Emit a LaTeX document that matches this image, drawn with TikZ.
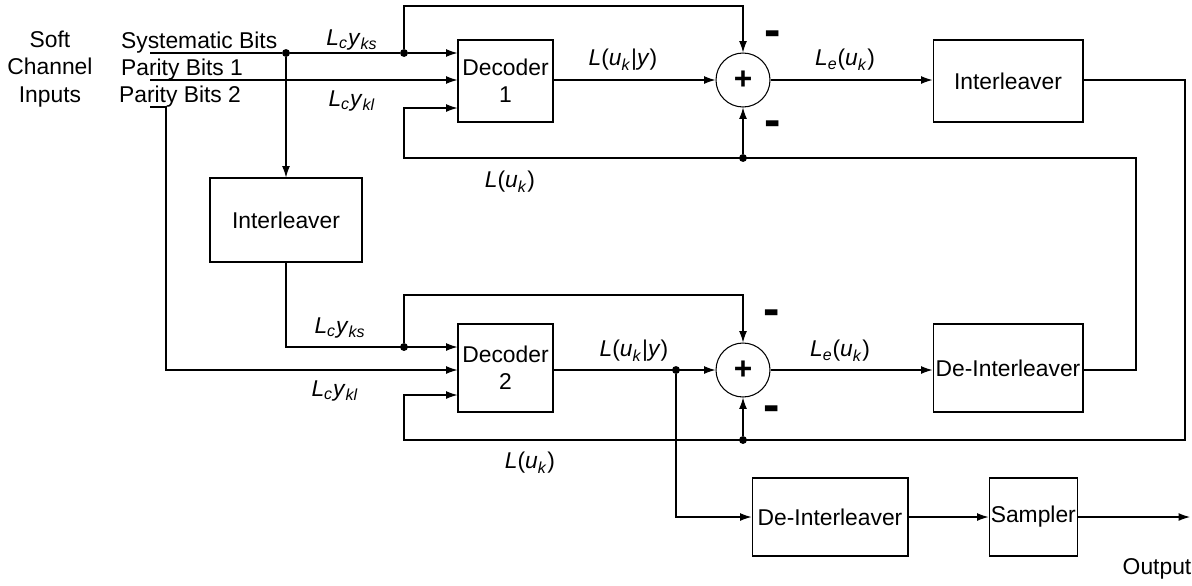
\documentclass[tikz,border=0pt]{standalone}
\usepackage{fontspec}
\setmainfont{Liberation Sans}
\usetikzlibrary{positioning,arrows.meta,calc}
\newcommand{\sbs}[1]{\textsubscript{\textit{#1}}}
\newcommand{\lcy}[1]{\textit{L}\sbs{c}\textit{y}\sbs{#1}}
\tikzset{
  blk/.style ={rectangle, draw, line width=0.6pt, align=center,
               font=\fontsize{13}{15.5}\selectfont, inner sep=1pt},
  sumc/.style={circle, draw, line width=0.6pt, minimum size=1.08cm, inner sep=0pt,
               font=\fontsize{18}{18}\selectfont\bfseries},
  fl/.style  ={-{Latex[length=6.5pt,width=4.5pt]}, line width=0.6pt},
  ln/.style  ={line width=0.6pt},
  jn/.style  ={circle, fill, inner sep=0pt, minimum size=4.5pt},
  lbl/.style ={font=\fontsize{13}{15.5}\selectfont, inner sep=1pt},
  mns/.style ={font=\fontsize{28}{28}\selectfont\bfseries, inner sep=0pt}
}

\begin{document}
\begin{tikzpicture}[x=0.02cm, y=-0.02cm]
  \useasboundingbox (0,0) rectangle (1192,585);

  % inputs
  \node[lbl, anchor=base] (soft) at (50,47) {Soft};
  \node[lbl, anchor=base] (chan) at (50,74) {Channel};
  \node[lbl, anchor=base] (inps) at (50,102) {Inputs};
  \node[lbl, anchor=base west] (sysb) at (119,48) {Systematic Bits};
  \node[lbl, anchor=base west] (par1) at (119,75) {Parity Bits 1};
  \node[lbl, anchor=base west] (par2) at (117,102) {Parity Bits 2};
  \coordinate (sysin) at (150,53);
  \coordinate (p1in) at (150,80);
  \coordinate (p2in) at (150,107);

  % first decoder stage
  \node[blk, minimum width=1.9cm, minimum height=1.64cm] (dec1) at (505.5,81) {Decoder\\1};
  \node[sumc] (add1) at (743,80) {+};
  \node[blk, minimum width=3cm, minimum height=1.64cm] (intl1) at (1008,81) {Interleaver};
  \node[blk, minimum width=3.04cm, minimum height=1.68cm] (intl2) at (286,220) {Interleaver};

  % second decoder stage
  \node[blk, minimum width=1.9cm, minimum height=1.76cm] (dec2) at (505.5,368) {Decoder\\2};
  \node[sumc] (add2) at (743,370) {+};
  \node[blk, minimum width=3cm, minimum height=1.76cm] (deint1) at (1008,368) {De-Interleaver};
  \node[blk, minimum width=3.12cm, minimum height=1.56cm] (deint2) at (830,517) {De-Interleaver};
  \node[blk, minimum width=1.64cm, minimum height=1.56cm, right=1.6cm of deint2] (smp) {Sampler};
  \coordinate (out) at (1190,517);

  % junctions
  \node[jn] (j1) at (286,53) {};
  \node[jn] (j2) at (404,53) {};
  \node[jn] (j3) at (743,158) {};
  \node[jn] (j4) at (404,347) {};
  \node[jn] (j5) at (676,370) {};
  \node[jn] (j6) at (743,440) {};
  \coordinate (c1) at (1136,158);
  \coordinate (c2) at (404,158);
  \coordinate (c3) at (1185,440);
  \coordinate (c4) at (404,440);
  \coordinate (in13) at ($(dec1.west)+(0,27)$);
  \coordinate (in22) at (dec2.west |- 0,370);
  \coordinate (in23) at ($(dec2.west)+(0,27)$);

  % connectors, top
  \draw[ln] (sysin) -- (j1) -- (j2);
  \draw[fl] (j2) -- (dec1.west |- j2);
  \draw[fl] (j1) -- (intl2.north);
  \draw[fl] (j2) -- ++(0,-47) -| (add1.north);
  \draw[fl] (p1in) -- (dec1.west |- p1in);
  \draw[fl] (dec1.east |- add1) -- (add1.west);
  \draw[fl] (add1) -- (intl1.west |- add1);
  \draw[fl] (deint1.east |- add2) -| (c1) -- (c2) |- (in13);
  \draw[fl] (j3) -- (add1.south);

  % connectors, bottom
  \draw[fl] (p2in) -- ++(16,0) |- (in22);
  \draw[fl] (intl2.south) |- (dec2.west |- j4);
  \draw[fl] (j4) -- ++(0,-52) -| (add2.north);
  \draw[fl] (intl1.east |- add1) -| (c3) -- (c4) |- (in23);
  \draw[fl] (j6) -- (add2.south);
  \draw[fl] (dec2.east |- add2) -- (add2.west);
  \draw[fl] (add2) -- (deint1.west |- add2);
  \draw[fl] (j5) |- (deint2.west);
  \draw[fl] (deint2) -- (smp);
  \draw[fl] (smp) -- (out);

  % labels
  \node[lbl] at (352,40) {\lcy{ks}};
  \node[lbl] at (352,101) {\lcy{kl}};
  \node[lbl] at (623,60) {\textit{L}(\textit{u}\sbs{k}|\textit{y})};
  \node[lbl] at (845,60) {\textit{L}\sbs{e}(\textit{u}\sbs{k})};
  \node[lbl] at (510,182) {\textit{L}(\textit{u}\sbs{k})};
  \node[lbl] at (340,328) {\lcy{ks}};
  \node[lbl] at (335,391) {\lcy{kl}};
  \node[lbl] at (634,351) {\textit{L}(\textit{u}\sbs{k}|\textit{y})};
  \node[lbl] at (840,351) {\textit{L}\sbs{e}(\textit{u}\sbs{k})};
  \node[lbl] at (530,463) {\textit{L}(\textit{u}\sbs{k})};
  \node[lbl] at (1157,569) {Output};
  \node[mns] at (773,39) {-};
  \node[mns] at (773,129) {-};
  \node[mns] at (772,318) {-};
  \node[mns] at (772,414) {-};
\end{tikzpicture}
\end{document}
